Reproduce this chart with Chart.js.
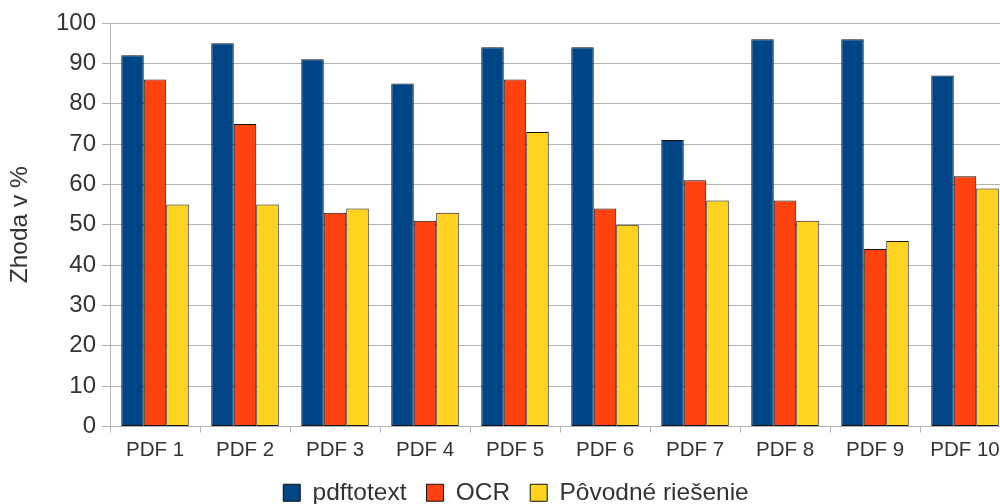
<!DOCTYPE html>
<html>
<head>
<meta charset="utf-8">
<script src="https://cdn.jsdelivr.net/npm/chart.js@4/dist/chart.umd.min.js"></script>
<style>
  html, body { margin: 0; padding: 0; background: #fff; overflow: hidden; width: 1000px; height: 504px; }
</style>
</head>
<body>
<canvas id="chart" width="1030" height="504"></canvas>
<script>
// values
const categories = ['PDF 1', 'PDF 2', 'PDF 3', 'PDF 4', 'PDF 5', 'PDF 6', 'PDF 7', 'PDF 8', 'PDF 9', 'PDF 10'];
const pdftotext = [92, 95, 91, 85, 94, 94, 71, 96, 96, 87];
const ocr = [86, 75, 53, 51, 86, 54, 61, 56, 44, 62];
const povodne = [55, 55, 54, 53, 73, 50, 56, 51, 46, 59];
const yMin = 0, yMax = 100, yStep = 10;

const font = 'Liberation Sans';
const gridColor = '#b3b3b3';
const textColor = '#333';

const ctx = document.getElementById('chart').getContext('2d');
new Chart(ctx, {
  type: 'bar',
  data: {
    labels: categories,
    datasets: [
      {label: 'pdftotext', data: pdftotext, backgroundColor: '#004586'},
      {label: 'OCR', data: ocr, backgroundColor: '#ff420e'},
      {label: 'Pôvodné riešenie', data: povodne, backgroundColor: '#ffd320'}
    ].map(d => Object.assign(d, {borderColor: '#111', borderWidth: 1, borderSkipped: false,
      categoryPercentage: 0.75, barPercentage: 1}))
  },
  options: {
    responsive: false,
    animation: false,
    // canvas is wider than the window: the last category is cut at the right edge like in the original
    layout: {padding: {top: 23, right: 20, left: 22, bottom: -11}},
    plugins: {
      tooltip: {enabled: false},
      legend: {
        position: 'bottom',
        labels: {
          font: {family: font, size: 24.5},
          color: textColor,
          boxWidth: 17,
          boxHeight: 17,
          padding: 20,
          useBorderRadius: false
        }
      }
    },
    scales: {
      x: {
        grid: {drawOnChartArea: false, drawTicks: true, tickLength: 6, color: gridColor},
        border: {color: gridColor},
        ticks: {font: {family: font, size: 20.5}, color: textColor, padding: 6, maxRotation: 0},
        afterFit: s => { s.height = 34; }
      },
      y: {
        min: yMin, max: yMax,
        ticks: {stepSize: yStep, font: {family: font, size: 24}, color: textColor, padding: 6},
        grid: {color: gridColor, tickLength: 8},
        border: {color: gridColor},
        title: {display: true, text: 'Zhoda v %', font: {family: font, size: 24.5}, color: textColor, padding: {top: -16, bottom: 4}},
        afterFit: s => { s.width = 88; }
      }
    }
  }
});
</script>
</body>
</html>
